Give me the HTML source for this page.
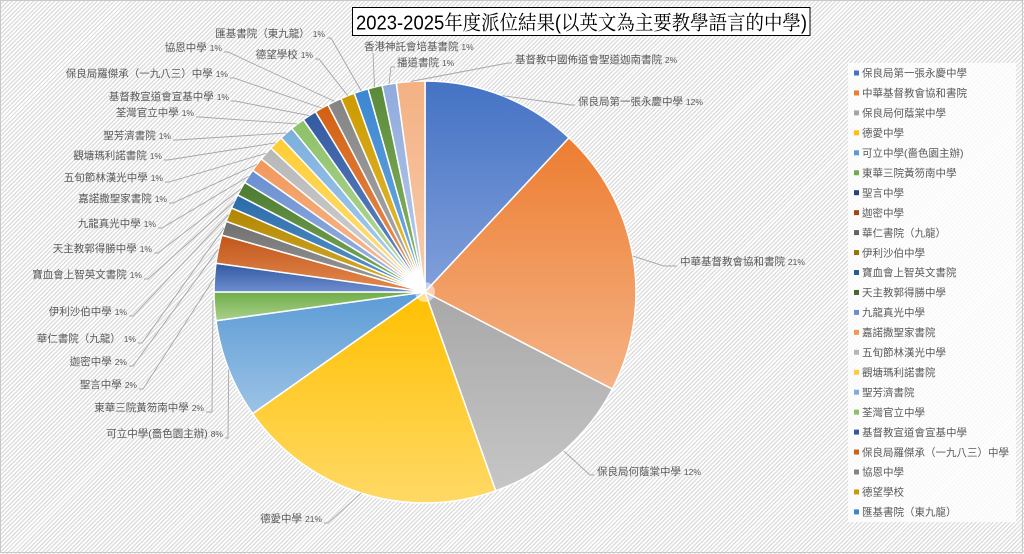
<!DOCTYPE html>
<html>
<head>
<meta charset="utf-8">
<style>
html,body{margin:0;padding:0;}
body{width:1024px;height:554px;overflow:hidden;position:relative;
background:repeating-linear-gradient(-45deg,#ffffff 0px,#ffffff 1.6px,#dedede 1.6px,#dedede 3px);}
svg{position:absolute;left:0;top:0;}
.lb{font-family:"Liberation Sans","Noto Sans CJK TC",sans-serif;font-size:10.5px;fill:#595959;}
.pc{font-size:8.5px;}
.ld{fill:none;stroke:#a6a6a6;stroke-width:0.9;}
</style>
</head>
<body>
<svg width="1024" height="554" viewBox="0 0 1024 554" xmlns="http://www.w3.org/2000/svg">
<defs>
<linearGradient id="g1" x1="0" y1="0" x2="0" y2="1"><stop offset="0" stop-color="#4472C4"/><stop offset="1" stop-color="#82A0DB"/></linearGradient>
<linearGradient id="g2" x1="0" y1="0" x2="0" y2="1"><stop offset="0" stop-color="#ED7D31"/><stop offset="1" stop-color="#F5B386"/></linearGradient>
<linearGradient id="g3" x1="0" y1="0" x2="0" y2="1"><stop offset="0" stop-color="#A8A8A8"/><stop offset="1" stop-color="#C6C6C6"/></linearGradient>
<linearGradient id="g4" x1="0" y1="0" x2="0" y2="1"><stop offset="0" stop-color="#FFC000"/><stop offset="1" stop-color="#FFD966"/></linearGradient>
<linearGradient id="g5" x1="0" y1="0" x2="0" y2="1"><stop offset="0" stop-color="#5B9BD5"/><stop offset="1" stop-color="#9DC3E6"/></linearGradient>
<linearGradient id="g6" x1="0" y1="0" x2="0" y2="1"><stop offset="0" stop-color="#70AD47"/><stop offset="1" stop-color="#A9D18E"/></linearGradient>
<linearGradient id="g7" x1="0" y1="0" x2="0" y2="1"><stop offset="0" stop-color="#30589F"/><stop offset="1" stop-color="#6E8ED0"/></linearGradient>
<linearGradient id="g8" x1="0" y1="0" x2="0" y2="1"><stop offset="0" stop-color="#C0561A"/><stop offset="1" stop-color="#E58A50"/></linearGradient>
<linearGradient id="g9" x1="0" y1="0" x2="0" y2="1"><stop offset="0" stop-color="#6E6E6E"/><stop offset="1" stop-color="#A0A0A0"/></linearGradient>
<linearGradient id="g10" x1="0" y1="0" x2="0" y2="1"><stop offset="0" stop-color="#B08500"/><stop offset="1" stop-color="#D9B030"/></linearGradient>
<linearGradient id="g11" x1="0" y1="0" x2="0" y2="1"><stop offset="0" stop-color="#2A6AA8"/><stop offset="1" stop-color="#5F9AD0"/></linearGradient>
<linearGradient id="g12" x1="0" y1="0" x2="0" y2="1"><stop offset="0" stop-color="#4C7A30"/><stop offset="1" stop-color="#7FB05E"/></linearGradient>
<linearGradient id="g13" x1="0" y1="0" x2="0" y2="1"><stop offset="0" stop-color="#698ED0"/><stop offset="1" stop-color="#A0B8E6"/></linearGradient>
<linearGradient id="g14" x1="0" y1="0" x2="0" y2="1"><stop offset="0" stop-color="#F1975A"/><stop offset="1" stop-color="#F8C19C"/></linearGradient>
<linearGradient id="g15" x1="0" y1="0" x2="0" y2="1"><stop offset="0" stop-color="#B7B7B7"/><stop offset="1" stop-color="#D5D5D5"/></linearGradient>
<linearGradient id="g16" x1="0" y1="0" x2="0" y2="1"><stop offset="0" stop-color="#FFCD33"/><stop offset="1" stop-color="#FFE08A"/></linearGradient>
<linearGradient id="g17" x1="0" y1="0" x2="0" y2="1"><stop offset="0" stop-color="#7CAFDD"/><stop offset="1" stop-color="#B0D0EE"/></linearGradient>
<linearGradient id="g18" x1="0" y1="0" x2="0" y2="1"><stop offset="0" stop-color="#8CC168"/><stop offset="1" stop-color="#BADCA3"/></linearGradient>
<linearGradient id="g19" x1="0" y1="0" x2="0" y2="1"><stop offset="0" stop-color="#335AA1"/><stop offset="1" stop-color="#6A8BCB"/></linearGradient>
<linearGradient id="g20" x1="0" y1="0" x2="0" y2="1"><stop offset="0" stop-color="#D26012"/><stop offset="1" stop-color="#EC9560"/></linearGradient>
<linearGradient id="g21" x1="0" y1="0" x2="0" y2="1"><stop offset="0" stop-color="#848484"/><stop offset="1" stop-color="#B0B0B0"/></linearGradient>
<linearGradient id="g22" x1="0" y1="0" x2="0" y2="1"><stop offset="0" stop-color="#CC9A00"/><stop offset="1" stop-color="#E8C040"/></linearGradient>
<linearGradient id="g23" x1="0" y1="0" x2="0" y2="1"><stop offset="0" stop-color="#3A86D0"/><stop offset="1" stop-color="#78B0E6"/></linearGradient>
<linearGradient id="g24" x1="0" y1="0" x2="0" y2="1"><stop offset="0" stop-color="#5A8A39"/><stop offset="1" stop-color="#8DBD6A"/></linearGradient>
<linearGradient id="g25" x1="0" y1="0" x2="0" y2="1"><stop offset="0" stop-color="#8FAADC"/><stop offset="1" stop-color="#BCCDEC"/></linearGradient>
<linearGradient id="g26" x1="0" y1="0" x2="0" y2="1"><stop offset="0" stop-color="#F4B183"/><stop offset="1" stop-color="#F8CDAE"/></linearGradient>
</defs>

<!-- outer border -->
<rect x="0.5" y="0.5" width="1022" height="552" fill="none" stroke="#c8c8c8" stroke-width="1"/>

<!-- Pie slices -->
<g stroke="#ffffff" stroke-width="1.5" stroke-linejoin="round">
<path fill="url(#g1)" d="M425,292 L425,81 A211,211 0 0 1 569.0,137.8 Z"/>
<path fill="url(#g2)" d="M425,292 L569.0,137.8 A211,211 0 0 1 612.3,389.1 Z"/>
<path fill="url(#g3)" d="M425,292 L612.3,389.1 A211,211 0 0 1 495.7,490.8 Z"/>
<path fill="url(#g4)" d="M425,292 L495.7,490.8 A211,211 0 0 1 252.6,413.7 Z"/>
<path fill="url(#g5)" d="M425,292 L252.6,413.7 A211,211 0 0 1 216.0,320.7 Z"/>
<path fill="url(#g6)" d="M425,292 L216.0,320.7 A211,211 0 0 1 214,292 Z"/>
<path fill="url(#g7)" d="M425,292 L214,292 A211,211 0 0 1 216.0,263.3 Z"/>
<path fill="url(#g8)" d="M425,292 L216.0,263.3 A211,211 0 0 1 221.8,235.1 Z"/>
<path fill="url(#g9)" d="M425,292 L221.8,235.1 A211,211 0 0 1 226.2,221.3 Z"/>
<path fill="url(#g10)" d="M425,292 L226.2,221.3 A211,211 0 0 1 231.5,207.9 Z"/>
<path fill="url(#g11)" d="M425,292 L231.5,207.9 A211,211 0 0 1 237.7,194.9 Z"/>
<path fill="url(#g12)" d="M425,292 L237.7,194.9 A211,211 0 0 1 244.7,182.4 Z"/>
<path fill="url(#g13)" d="M425,292 L244.7,182.4 A211,211 0 0 1 252.6,170.3 Z"/>
<path fill="url(#g14)" d="M425,292 L252.6,170.3 A211,211 0 0 1 261.3,158.8 Z"/>
<path fill="url(#g15)" d="M425,292 L261.3,158.8 A211,211 0 0 1 270.8,148.0 Z"/>
<path fill="url(#g16)" d="M425,292 L270.8,148.0 A211,211 0 0 1 281.0,137.8 Z"/>
<path fill="url(#g17)" d="M425,292 L281.0,137.8 A211,211 0 0 1 291.8,128.3 Z"/>
<path fill="url(#g18)" d="M425,292 L291.8,128.3 A211,211 0 0 1 303.3,119.6 Z"/>
<path fill="url(#g19)" d="M425,292 L303.3,119.6 A211,211 0 0 1 315.4,111.7 Z"/>
<path fill="url(#g20)" d="M425,292 L315.4,111.7 A211,211 0 0 1 327.9,104.7 Z"/>
<path fill="url(#g21)" d="M425,292 L327.9,104.7 A211,211 0 0 1 340.9,98.5 Z"/>
<path fill="url(#g22)" d="M425,292 L340.9,98.5 A211,211 0 0 1 354.3,93.2 Z"/>
<path fill="url(#g23)" d="M425,292 L354.3,93.2 A211,211 0 0 1 368.1,88.8 Z"/>
<path fill="url(#g24)" d="M425,292 L368.1,88.8 A211,211 0 0 1 382.1,85.4 Z"/>
<path fill="url(#g25)" d="M425,292 L382.1,85.4 A211,211 0 0 1 396.3,83.0 Z"/>
<path fill="url(#g26)" d="M425,292 L396.3,83.0 A211,211 0 0 1 425,81 Z"/>
</g>
<circle cx="425" cy="292" r="10" fill="#ffffff" opacity="0.55"/>

<!-- Leader lines -->
<g class="ld">
<polyline points="327,38 331,38 361.2,90.9"/>
<polyline points="224,52 228,52 334.5,101.4"/>
<polyline points="315,59 319,59 347.7,95.7"/>
<polyline points="230,78 234,78 321.7,108"/>
<polyline points="231,101 235,101 309.2,115.6"/>
<polyline points="196,117 200,117 297.4,123.9"/>
<polyline points="173,140 177,140 286.3,133"/>
<polyline points="164,160 168,160 275.8,142.8"/>
<polyline points="165,182 169,182 266,153.3"/>
<polyline points="169,203 173,203 256.9,164.4"/>
<polyline points="158,228 162,228 248.6,176.2"/>
<polyline points="154,253 158,253 241,188.7"/>
<polyline points="144,279 148,279 234.4,201.5"/>
<polyline points="129,316 133,316 228.7,214.7"/>
<polyline points="138,343 142,343 223.9,228.2"/>
<polyline points="129,366 133,366 218.4,249.2"/>
<polyline points="139,389 143,389 214.5,277.6"/>
<polyline points="206,412 212,412 213,300"/>
<polyline points="225,438 228,438 228.7,369.3"/>
<polyline points="373,53 374.5,87"/>
<polyline points="395,67 391,67 389,84"/>
<polyline points="512,63 508,63 410.6,81.5"/>
<polyline points="575,105 571,105 502.3,95.7"/>
<polyline points="677,266 664,266 632.9,256.1"/>
<polyline points="594,475 590,475 563.7,451"/>
<polyline points="324,523 328,523 361.2,493.1"/>
</g>

<!-- Data labels -->
<g class="lb">
<text x="325" y="37" text-anchor="end">匯基書院（東九龍） <tspan class="pc">1%</tspan></text>
<text x="222" y="51" text-anchor="end">協恩中學 <tspan class="pc">1%</tspan></text>
<text x="313" y="58" text-anchor="end">德望學校 <tspan class="pc">1%</tspan></text>
<text x="228" y="77" text-anchor="end">保良局羅傑承（一九八三）中學 <tspan class="pc">1%</tspan></text>
<text x="229" y="100" text-anchor="end">基督教宣道會宣基中學 <tspan class="pc">1%</tspan></text>
<text x="194" y="116" text-anchor="end">荃灣官立中學 <tspan class="pc">1%</tspan></text>
<text x="171" y="139" text-anchor="end">聖芳濟書院 <tspan class="pc">1%</tspan></text>
<text x="162" y="159" text-anchor="end">觀塘瑪利諾書院 <tspan class="pc">1%</tspan></text>
<text x="163" y="181" text-anchor="end">五旬節林漢光中學 <tspan class="pc">1%</tspan></text>
<text x="167" y="202" text-anchor="end">嘉諾撒聖家書院 <tspan class="pc">1%</tspan></text>
<text x="156" y="227" text-anchor="end">九龍真光中學 <tspan class="pc">1%</tspan></text>
<text x="152" y="252" text-anchor="end">天主教郭得勝中學 <tspan class="pc">1%</tspan></text>
<text x="142" y="278" text-anchor="end">寶血會上智英文書院 <tspan class="pc">1%</tspan></text>
<text x="127" y="315" text-anchor="end">伊利沙伯中學 <tspan class="pc">1%</tspan></text>
<text x="136" y="342" text-anchor="end">華仁書院（九龍） <tspan class="pc">1%</tspan></text>
<text x="127" y="365" text-anchor="end">迦密中學 <tspan class="pc">2%</tspan></text>
<text x="137" y="388" text-anchor="end">聖言中學 <tspan class="pc">2%</tspan></text>
<text x="204" y="411" text-anchor="end">東華三院黃笏南中學 <tspan class="pc">2%</tspan></text>
<text x="223" y="437" text-anchor="end">可立中學(嗇色園主辦) <tspan class="pc">8%</tspan></text>
<text x="364" y="50">香港神託會培基書院 <tspan class="pc">1%</tspan></text>
<text x="397" y="66">播道書院 <tspan class="pc">1%</tspan></text>
<text x="515" y="63">基督教中國佈道會聖道迦南書院 <tspan class="pc">2%</tspan></text>
<text x="578" y="105">保良局第一張永慶中學 <tspan class="pc">12%</tspan></text>
<text x="680" y="265">中華基督教會協和書院 <tspan class="pc">21%</tspan></text>
<text x="597" y="475">保良局何蔭棠中學 <tspan class="pc">12%</tspan></text>
<text x="322" y="522" text-anchor="end">德愛中學 <tspan class="pc">21%</tspan></text>
</g>

<!-- Title -->
<rect x="352.5" y="7.5" width="457.5" height="28" fill="#ffffff" stroke="#000000" stroke-width="1"/>
<text x="356" y="29.5" textLength="451" lengthAdjust="spacingAndGlyphs" style="font-family:'Liberation Sans','Noto Serif CJK SC',serif;font-size:20px;fill:#000000;">2023-2025年度派位結果(以英文為主要教學語言的中學)</text>

<!-- Legend -->
<rect x="848" y="63" width="168" height="459" fill="#ffffff" fill-opacity="0.78"/>
<g>
<rect x="854" y="70.5" width="5" height="5" fill="#4472C4"/>
<rect x="854" y="90.45" width="5" height="5" fill="#ED7D31"/>
<rect x="854" y="110.4" width="5" height="5" fill="#A5A5A5"/>
<rect x="854" y="130.35" width="5" height="5" fill="#FFC000"/>
<rect x="854" y="150.3" width="5" height="5" fill="#5B9BD5"/>
<rect x="854" y="170.25" width="5" height="5" fill="#70AD47"/>
<rect x="854" y="190.2" width="5" height="5" fill="#264478"/>
<rect x="854" y="210.15" width="5" height="5" fill="#9E480E"/>
<rect x="854" y="230.1" width="5" height="5" fill="#636363"/>
<rect x="854" y="250.05" width="5" height="5" fill="#997300"/>
<rect x="854" y="270" width="5" height="5" fill="#255E91"/>
<rect x="854" y="289.95" width="5" height="5" fill="#43682B"/>
<rect x="854" y="309.9" width="5" height="5" fill="#698ED0"/>
<rect x="854" y="329.85" width="5" height="5" fill="#F1975A"/>
<rect x="854" y="349.8" width="5" height="5" fill="#B7B7B7"/>
<rect x="854" y="369.75" width="5" height="5" fill="#FFCD33"/>
<rect x="854" y="389.7" width="5" height="5" fill="#7CAFDD"/>
<rect x="854" y="409.65" width="5" height="5" fill="#8CC168"/>
<rect x="854" y="429.6" width="5" height="5" fill="#335AA1"/>
<rect x="854" y="449.55" width="5" height="5" fill="#D26012"/>
<rect x="854" y="469.5" width="5" height="5" fill="#848484"/>
<rect x="854" y="489.45" width="5" height="5" fill="#CC9A00"/>
<rect x="854" y="509.4" width="5" height="5" fill="#3A86D0"/>
</g>
<g class="lb">
<text x="862" y="76.7">保良局第一張永慶中學</text>
<text x="862" y="96.65">中華基督教會協和書院</text>
<text x="862" y="116.6">保良局何蔭棠中學</text>
<text x="862" y="136.55">德愛中學</text>
<text x="862" y="156.5">可立中學(嗇色園主辦)</text>
<text x="862" y="176.45">東華三院黃笏南中學</text>
<text x="862" y="196.4">聖言中學</text>
<text x="862" y="216.35">迦密中學</text>
<text x="862" y="236.3">華仁書院（九龍）</text>
<text x="862" y="256.25">伊利沙伯中學</text>
<text x="862" y="276.2">寶血會上智英文書院</text>
<text x="862" y="296.15">天主教郭得勝中學</text>
<text x="862" y="316.1">九龍真光中學</text>
<text x="862" y="336.05">嘉諾撒聖家書院</text>
<text x="862" y="356">五旬節林漢光中學</text>
<text x="862" y="375.95">觀塘瑪利諾書院</text>
<text x="862" y="395.9">聖芳濟書院</text>
<text x="862" y="415.85">荃灣官立中學</text>
<text x="862" y="435.8">基督教宣道會宣基中學</text>
<text x="862" y="455.75">保良局羅傑承（一九八三）中學</text>
<text x="862" y="475.7">協恩中學</text>
<text x="862" y="495.65">德望學校</text>
<text x="862" y="515.6">匯基書院（東九龍）</text>
</g>
</svg>
</body>
</html>
